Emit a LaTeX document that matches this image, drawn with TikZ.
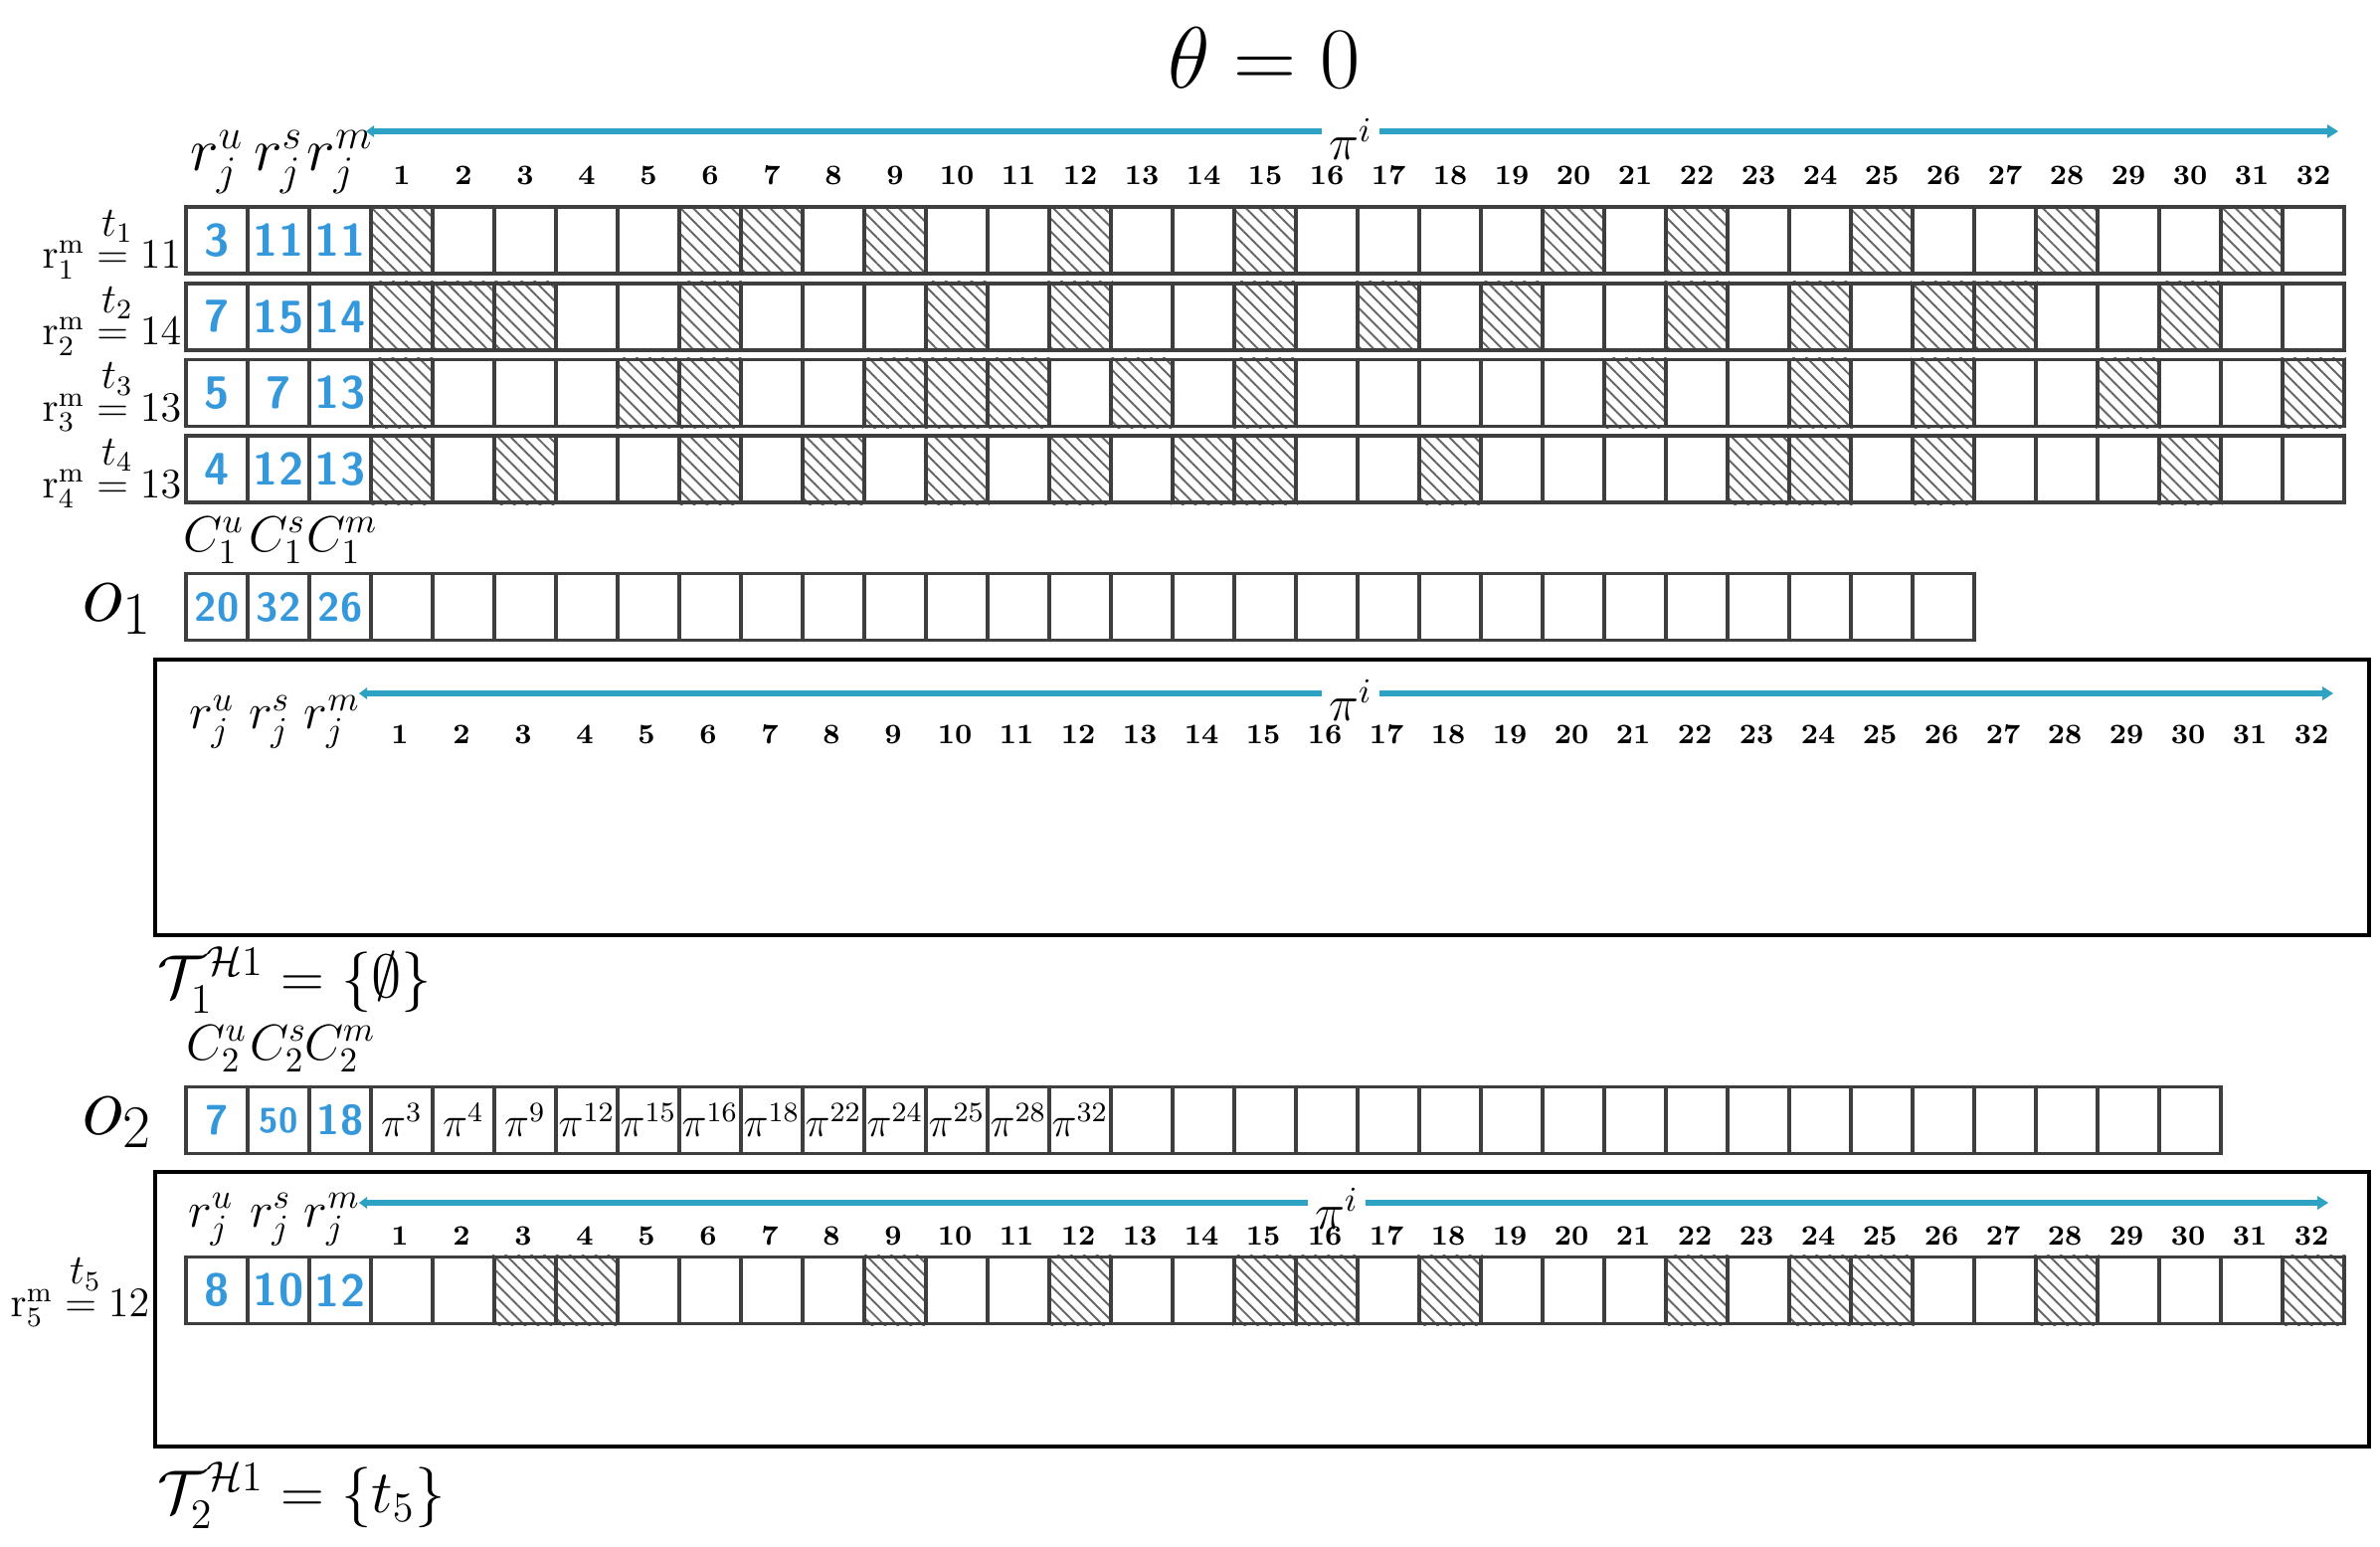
\documentclass[tikz,border=0pt]{standalone}
\usepackage{amsmath}
\usepackage{amssymb}
\usetikzlibrary{patterns.meta,backgrounds}

\definecolor{valblue}{RGB}{52,152,219}
\definecolor{axisblue}{RGB}{46,162,194}
\definecolor{gridgray}{RGB}{62,62,62}

\begin{document}
\begin{tikzpicture}[x=0.1mm,y=-0.1mm,
    cell/.style={draw=gridgray,line width=0.38mm,minimum width=6.2mm,minimum height=6.7mm},
    val/.style={cell,text=valblue,font=\fontsize{13}{13}\selectfont\sffamily\bfseries},
    picell/.style={cell,font=\fontsize{12}{12}\selectfont},
    hatch/.style={pattern={Lines[angle=-45,distance=2.6pt,line width=0.55pt]},pattern color=black!60},
    idx/.style={font=\fontsize{8}{9}\selectfont\bfseries},
    hdr/.style={font=\fontsize{17}{17}\selectfont},
    hdrs/.style={font=\fontsize{14}{14}\selectfont},
    axisline/.style={axisblue,line width=0.55mm},
    pilabel/.style={fill=white,inner sep=2pt,font=\fontsize{14}{14}\selectfont},
    taskframe/.style={draw=black,line width=0.45mm},
    lbl/.style={font=\fontsize{11.5}{12}\selectfont}]
\tikzstyle{every node}+=[inner sep=0pt]
\useasboundingbox (0,0) rectangle (2393,1554);

\node[font=\fontsize{30}{30}\selectfont] (title) at (1271,58) {$\theta=0$};

% top table
\coordinate (a0) at (373,132);
\coordinate (a1) at (2343,132);
\draw[axisline] (a0) -- (a1);
\fill[axisblue] (a1) ++(8,0) -- ++(-11,-7) -- ++(0,14) -- cycle;
\fill[axisblue] (a0) ++(-5,0) -- ++(8,-6) -- ++(0,12) -- cycle;
\node[pilabel] (pia) at (1358,140) {$\pi^i$};
\foreach \c in {1,...,32}
    \node[idx] (na\c) at ({342+62*\c},176) {\c};
\node[hdr] (rua) at (218,163) {$r_j^u$};
\node[hdr] (rsa) at (280,163) {$r_j^s$};
\node[hdr] (rma) at (342,163) {$r_j^m$};

\foreach \i/\u/\s/\m/\hl in {1/3/11/11/{1,6,7,9,12,15,20,22,25,28,31},
    2/7/15/14/{1,2,3,6,10,12,15,17,19,22,24,26,27,30},
    3/5/7/13/{1,5,6,9,10,11,13,15,21,24,26,29,32},
    4/4/12/13/{1,3,6,8,10,12,14,15,18,23,24,26,30}}
{
    \pgfmathsetmacro{\y}{241.5+76.7*(\i-1)}
    \node[lbl] (tl\i) at (118,\y-14) {$t_{\i}$};
    \node[lbl,anchor=east] (rl\i) at (183,\y+20) {$\mathrm{r}_{\i}^{\mathrm{m}}=\m$};
    \node[val] (t\i-u) at (218,\y) {\u};
    \node[val] (t\i-s) at (280,\y) {\s};
    \node[val] (t\i-m) at (342,\y) {\m};
    \foreach \c in {1,...,32}
        \node[cell] (t\i-\c) at ({342+62*\c},\y) {};
    \begin{scope}[on background layer]
        \foreach \c in \hl
            \fill[hatch] (t\i-\c.south west) rectangle (t\i-\c.north east);
    \end{scope}
}

% machine o1
\node[hdrs] (c1u) at (215,543) {$C_1^u$};
\node[hdrs] (c1s) at (279,543) {$C_1^s$};
\node[hdrs] (c1m) at (344,543) {$C_1^m$};
\node[font=\fontsize{26}{26}\selectfont] (o1) at (118,612) {$o_1$};
\node[val,font=\fontsize{11.5}{12}\selectfont\sffamily\bfseries] (o1-1) at (218,610) {20};
\node[val,font=\fontsize{11.5}{12}\selectfont\sffamily\bfseries] (o1-2) at (280,610) {32};
\node[val,font=\fontsize{11.5}{12}\selectfont\sffamily\bfseries] (o1-3) at (342,610) {26};
\foreach \k in {4,...,29}
    \node[cell] (o1-\k) at ({156+62*\k},610) {};

\draw[taskframe] (156,663) rectangle (2382,940);
\coordinate (b0) at (366,697);
\coordinate (b1) at (2338,697);
\draw[axisline] (b0) -- (b1);
\fill[axisblue] (b1) ++(8,0) -- ++(-11,-7) -- ++(0,14) -- cycle;
\fill[axisblue] (b0) ++(-5,0) -- ++(8,-6) -- ++(0,12) -- cycle;
\node[pilabel] (pib) at (1358,704) {$\pi^i$};
\foreach \c in {1,...,32}
    \node[idx] (nb\c) at ({340+62*\c},738) {\c};
\node[hdrs] (rub) at (213,726) {$r_j^u$};
\node[hdrs] (rsb) at (271,726) {$r_j^s$};
\node[hdrs] (rmb) at (334,726) {$r_j^m$};
\node[font=\fontsize{18}{20}\selectfont,anchor=west] (T1) at (158,985) {$\mathcal{T}_1^{\mathcal{H}1}=\{\emptyset\}$};

% machine o2
\node[hdrs] (c2u) at (218,1054) {$C_2^u$};
\node[hdrs] (c2s) at (280,1054) {$C_2^s$};
\node[hdrs] (c2m) at (342,1054) {$C_2^m$};
\node[font=\fontsize{26}{26}\selectfont] (o2) at (118,1128) {$o_2$};
\node[val,font=\fontsize{12}{12}\selectfont\sffamily\bfseries] (o2-1) at (218,1126) {7};
\node[val,font=\fontsize{10}{10}\selectfont\sffamily\bfseries] (o2-2) at (280,1126) {50};
\node[val,font=\fontsize{12}{12}\selectfont\sffamily\bfseries] (o2-3) at (342,1126) {18};
\foreach \c [count=\k from 4] in {3,4,9,12,15,16,18,22,24,25,28,32}
    \node[picell] (o2-\k) at ({156+62*\k},1126) {$\pi^{\c}$};
\foreach \k in {16,...,33}
    \node[cell] (o2-\k) at ({156+62*\k},1126) {};

\draw[taskframe] (156,1178) rectangle (2382,1454);
\coordinate (c0) at (366,1209);
\coordinate (c1) at (2333,1209);
\draw[axisline] (c0) -- (c1);
\fill[axisblue] (c1) ++(8,0) -- ++(-11,-7) -- ++(0,14) -- cycle;
\fill[axisblue] (c0) ++(-5,0) -- ++(8,-6) -- ++(0,12) -- cycle;
\node[pilabel] (pic) at (1344,1215) {$\pi^i$};
\foreach \c in {1,...,32}
    \node[idx] (nc\c) at ({340+62*\c},1242) {\c};
\node[hdrs] (ruc) at (212,1226) {$r_j^u$};
\node[hdrs] (rsc) at (272,1226) {$r_j^s$};
\node[hdrs] (rmc) at (334,1226) {$r_j^m$};

\node[lbl] (tl5) at (86,1281) {$t_5$};
\node[lbl,anchor=east] (rl5) at (151,1315) {$\mathrm{r}_5^{\mathrm{m}}=12$};
\node[val] (t5-u) at (218,1297) {8};
\node[val] (t5-s) at (280,1297) {10};
\node[val] (t5-m) at (342,1297) {12};
\foreach \c in {1,...,32}
    \node[cell] (t5-\c) at ({342+62*\c},1297) {};
\begin{scope}[on background layer]
    \foreach \c in {3,4,9,12,15,16,18,22,24,25,28,32}
        \fill[hatch] (t5-\c.south west) rectangle (t5-\c.north east);
\end{scope}
\node[font=\fontsize{18}{20}\selectfont,anchor=west] (T2) at (158,1503) {$\mathcal{T}_2^{\mathcal{H}1}=\{t_5\}$};
\end{tikzpicture}
\end{document}
